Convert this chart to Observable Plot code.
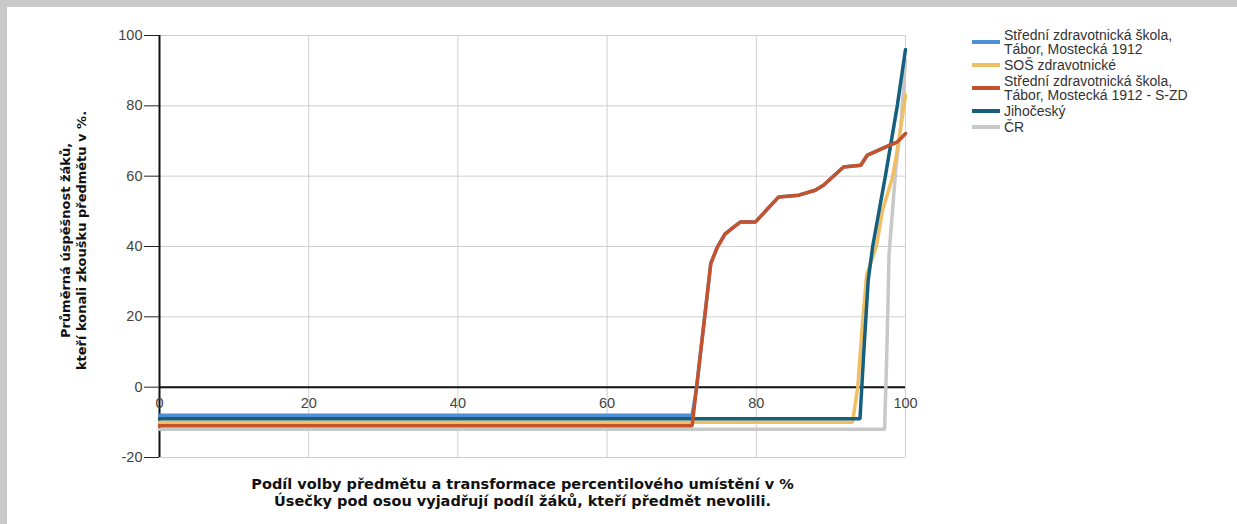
<!DOCTYPE html>
<html>
<head>
<meta charset="utf-8">
<script src="https://cdn.jsdelivr.net/npm/d3@7"></script>
<script src="https://cdn.jsdelivr.net/npm/@observablehq/plot@0.6"></script>
<style>
  html, body { margin: 0; padding: 0; background: #fff; }
  #frame {
    position: absolute; left: 0; top: 0; width: 1237px; height: 524px;
    box-sizing: border-box; border-top: 7px solid #c9c9c9; border-left: 7px solid #c9c9c9;
    background: #fff; overflow: hidden;
  }
  #chart { position: absolute; left: 0; top: 0; }
  #legend {
    position: absolute; left: 965px; top: 21px;
    font-family: "Liberation Sans", Arial, sans-serif; font-size: 14px; color: #333;
    line-height: 14px; white-space: nowrap;
  }
  .item { display: flex; align-items: center; margin-bottom: 2px; }
  .sw { width: 28px; height: 4px; margin-right: 4px; flex: none; }
</style>
</head>
<body>
<div id="frame">
  <div id="chart"></div>
  <div id="legend"></div>
</div>
<script>
// ---- data ----
const xTicks = [0, 20, 40, 60, 80, 100];
const yTicks = [-20, 0, 20, 40, 60, 80, 100];

const seriesNames = [
  "Střední zdravotnická škola,\nTábor, Mostecká 1912",
  "SOŠ zdravotnické",
  "Střední zdravotnická škola,\nTábor, Mostecká 1912 - S-ZD",
  "Jihočeský",
  "ČR"
];
const seriesColors = ["#4e8ed2", "#efc063", "#c4522d", "#17607d", "#c8c8c8"];

// school (blue) – same course as S-ZD, non-choosers segment at -8
const blueX = [0, 71.4, 72.0, 73.9, 74.8, 75.8, 77.0, 77.9, 79.9, 83.0, 85.7, 87.9, 89.0, 91.7, 94.0, 94.9, 97.9, 98.9, 100];
const blueY = [-8, -8, 0, 35.2, 39.9, 43.5, 45.6, 47.0, 47.0, 54.1, 54.6, 56.0, 57.4, 62.6, 63.1, 66.0, 68.8, 69.7, 72.1];

const yellowX = [0, 92.9, 93.6, 94.3, 94.8, 96.1, 96.9, 98.3, 99.1, 100];
const yellowY = [-10, -10, 0, 20, 32, 40, 50, 60, 70, 83];

const redX = [0, 71.4, 72.0, 73.9, 74.8, 75.8, 77.0, 77.9, 79.9, 83.0, 85.7, 87.9, 89.0, 91.7, 94.0, 94.9, 97.9, 98.9, 100];
const redY = [-11, -11, 0, 35.2, 39.9, 43.5, 45.6, 47.0, 47.0, 54.1, 54.6, 56.0, 57.4, 62.6, 63.1, 66.0, 68.8, 69.7, 72.1];

const tealX = [0, 93.9, 94.4, 95.0, 95.6, 97.3, 98.9, 100];
const tealY = [-9, -9, 9.7, 30.4, 40, 60, 80, 96];

const grayX = [0, 97.2, 97.5, 97.8, 98.7, 99.4, 100];
const grayY = [-12, -12, 10, 38, 62, 75, 93];

const xTitle = "Podíl volby předmětu a transformace percentilového umístění v %\nÚsečky pod osou vyjadřují podíl žáků, kteří předmět nevolili.";
const yTitle = "Průměrná úspěšnost žáků,\nkteří konali zkoušku předmětu v %.";

// ---- build ----
const seriesXY = [[blueX, blueY], [yellowX, yellowY], [redX, redY], [tealX, tealY], [grayX, grayY]];
const series = seriesNames.map((name, i) => ({
  name, color: seriesColors[i],
  pts: seriesXY[i][0].map((x, j) => ({x, y: seriesXY[i][1][j]}))
}));
const drawOrder = [4, 0, 1, 3, 2];

const font = "'Liberation Sans', Arial, sans-serif";
const titleFont = "'DejaVu Sans', Verdana, sans-serif";
const chart = Plot.plot({
  width: 1230, height: 517,
  marginLeft: 152, marginRight: 332, marginTop: 28, marginBottom: 67,
  style: { fontFamily: font, background: "transparent" },
  x: { domain: [0, 100], axis: null },
  y: { domain: [-20, 100], axis: null },
  marks: [
    Plot.gridX(xTicks, { stroke: "#cfcfcf", strokeOpacity: 1, strokeWidth: 1 }),
    Plot.gridY(yTicks, { stroke: "#cfcfcf", strokeOpacity: 1, strokeWidth: 1 }),
    Plot.axisY(yTicks, { anchor: "left", tickSize: 15, tickPadding: 2, fontSize: 14.5, fill: "#444", stroke: "#222", label: null, tickFormat: d => String(d) }),
    Plot.ruleY([0], { stroke: "#111", strokeWidth: 2 }),
    Plot.ruleX([0], { stroke: "#111", strokeWidth: 2 }),
    ...drawOrder.map(i => Plot.line(series[i].pts, {
      x: "x", y: "y", stroke: series[i].color, strokeWidth: 3.5, strokeLinejoin: "miter", curve: "linear"
    })),
    Plot.text(xTicks, { x: d => d, y: () => 0, text: d => String(d), dy: 16, fontSize: 14.5, fill: "#444" }),
    Plot.text([xTitle], { frameAnchor: "bottom", textAnchor: "middle", lineAnchor: "middle", dx: -10, dy: 34.5,
      fontFamily: titleFont, fontWeight: "bold", fontSize: 14.5, lineHeight: 1.17, fill: "#111" }),
    Plot.text([yTitle], { frameAnchor: "left", textAnchor: "middle", lineAnchor: "middle", rotate: -90, dx: -87, dy: -6,
      fontFamily: titleFont, fontWeight: "bold", fontSize: 13, lineHeight: 1.23, fill: "#111" })
  ]
});
document.getElementById("chart").appendChild(chart);

const legend = document.getElementById("legend");
series.forEach(s => {
  const item = document.createElement("div");
  item.className = "item";
  const sw = document.createElement("div");
  sw.className = "sw";
  sw.style.background = s.color;
  const label = document.createElement("div");
  label.innerHTML = s.name.split("\n").join("<br>");
  item.appendChild(sw);
  item.appendChild(label);
  legend.appendChild(item);
});
</script>
</body>
</html>
